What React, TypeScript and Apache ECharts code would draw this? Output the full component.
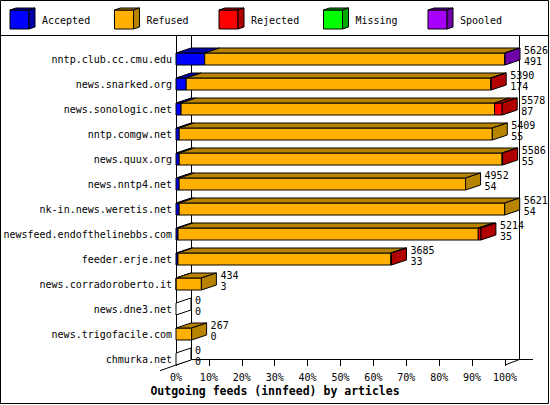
import React, { useRef, useEffect } from 'react';
import * as echarts from 'echarts';

// feeds, top to bottom
const categories = [
  'nntp.club.cc.cmu.edu',
  'news.snarked.org',
  'news.sonologic.net',
  'nntp.comgw.net',
  'news.quux.org',
  'news.nntp4.net',
  'nk-in.news.weretis.net',
  'newsfeed.endofthelinebbs.com',
  'feeder.erje.net',
  'news.corradoroberto.it',
  'news.dne3.net',
  'news.trigofacile.com',
  'chmurka.net',
];
const totals = [5626, 5390, 5578, 5409, 5586, 4952, 5621, 5214, 3685, 434, 0, 267, 0];
const accepted = [491, 174, 87, 55, 55, 54, 54, 35, 33, 3, 0, 0, 0];
const refused = [5131, 5208, 5361, 5354, 5521, 4898, 5567, 5134, 3642, 431, 0, 267, 0];
const rejected = [0, 8, 130, 0, 10, 0, 0, 45, 10, 0, 0, 0, 0];
const missing = [0, 0, 0, 0, 0, 0, 0, 0, 0, 0, 0, 0, 0];
const spooled = [4, 0, 0, 0, 0, 0, 0, 0, 0, 0, 0, 0, 0];

const segmentNames = ['Accepted', 'Refused', 'Rejected', 'Missing', 'Spooled'];
const frontColors = ['#0000ff', '#ffb000', '#ff0000', '#00ff00', '#a800ff'];
const shadeColors = ['#0000a8', '#b88400', '#b00000', '#00a800', '#7000a8'];

const FONT = '"DejaVu Sans Mono", monospace';
const DX = 15; // depth offset, horizontal
const DY = 5; // depth offset, vertical
const HALF = 6; // half bar height

export default function App() {
  const chartRef = useRef<HTMLDivElement>(null);

  useEffect(() => {
    if (!chartRef.current) return;
    const chart = echarts.init(chartRef.current, null, { renderer: 'svg' });

    const maxTotal = Math.max(...totals);
    const pct = (v: number) => (v / maxTotal) * 100;
    const data = categories.map((_, i) => [
      i,
      pct(accepted[i]),
      pct(refused[i]),
      pct(rejected[i]),
      pct(missing[i]),
      pct(spooled[i]),
      totals[i],
      accepted[i],
    ]);

    // legend cubes
    const legend: any[] = [];
    segmentNames.forEach((name, k) => {
      const lx = 10 + k * 104.5;
      legend.push(
        { type: 'rect', z: 1, shape: { x: lx, y: 10, width: 19, height: 19 }, style: { fill: frontColors[k], stroke: '#000', lineWidth: 1 } },
        { type: 'polygon', z: 1, shape: { points: [[lx, 10], [lx + 6, 8], [lx + 25, 8], [lx + 19, 10]] }, style: { fill: shadeColors[k], stroke: '#000', lineWidth: 1 } },
        { type: 'polygon', z: 1, shape: { points: [[lx + 19, 10], [lx + 25, 8], [lx + 25, 27], [lx + 19, 29]] }, style: { fill: shadeColors[k], stroke: '#000', lineWidth: 1 } },
        { type: 'text', z: 1, style: { text: name, x: lx + 32, y: 20, fill: '#000', fontFamily: FONT, fontSize: 10, verticalAlign: 'middle' } }
      );
    });

    const line = (x1: number, y1: number, x2: number, y2: number) => ({
      type: 'line', z: 0, shape: { x1, y1, x2, y2 }, style: { stroke: '#000', lineWidth: 1 },
    });

    const option: any = {
      animation: false,
      title: {
        text: 'Outgoing feeds (innfeed) by articles',
        left: 'center',
        top: 385,
        padding: 0,
        textStyle: { color: '#000', fontFamily: FONT, fontSize: 11.5, fontWeight: 'bold' },
      },
      grid: { left: 176, right: 45, top: 46.5, height: 325 },
      xAxis: {
        type: 'value',
        min: 0,
        max: 100,
        interval: 10,
        offset: -11.5,
        axisLine: { show: false },
        axisTick: { show: true, length: 6, lineStyle: { color: '#000' } },
        axisLabel: { formatter: '{value}%', color: '#000', fontFamily: FONT, fontSize: 10, margin: 12 },
        splitLine: { show: false },
      },
      yAxis: {
        type: 'category',
        data: categories,
        inverse: true,
        axisLine: { show: false },
        axisTick: { show: false },
        axisLabel: { color: '#000', fontFamily: FONT, fontSize: 10, margin: 4 },
      },
      graphic: [
        { type: 'rect', z: 0, shape: { x: 0.5, y: 0.5, width: 548, height: 403 }, style: { fill: 'none', stroke: '#000', lineWidth: 1 } },
        line(0, 35.5, 549, 35.5),
        line(176.5, 36, 176.5, 365),
        line(191.5, 36, 191.5, 359.5),
        line(519.5, 36, 519.5, 359.5),
        line(191.5, 359.5, 533, 359.5),
        line(160, 370.7, 191.5, 359.5),
        line(505, 365, 519.5, 359.5),
        ...legend,
      ],
      series: [
        {
          type: 'custom',
          z: 5,
          data,
          encode: { x: 2, y: 0 },
          renderItem: (_params: any, api: any) => {
            const i = api.value(0);
            const [x0, cy] = api.coord([0, i]);
            const top = cy - HALF;
            const bot = cy + HALF;
            const children: any[] = [];
            let start = 0;
            let lastIdx = -1;
            let xEnd = x0;
            for (let k = 0; k < 5; k++) {
              const v = api.value(k + 1);
              if (v <= 0) continue;
              const xa = api.coord([start, i])[0];
              const xb = api.coord([start + v, i])[0];
              children.push({
                type: 'rect',
                shape: { x: xa, y: top, width: xb - xa, height: bot - top },
                style: { fill: frontColors[k], stroke: '#000', lineWidth: 1 },
              });
              children.push({
                type: 'polygon',
                shape: { points: [[xa, top], [xa + DX, top - DY], [xb + DX, top - DY], [xb, top]] },
                style: { fill: shadeColors[k], stroke: '#000', lineWidth: 1 },
              });
              start += v;
              lastIdx = k;
              xEnd = xb;
            }
            // right-hand face takes the shade of the last segment
            children.push({
              type: 'polygon',
              shape: { points: [[xEnd, top], [xEnd + DX, top - DY], [xEnd + DX, bot - DY], [xEnd, bot]] },
              style: { fill: lastIdx >= 0 ? shadeColors[lastIdx] : '#fff', stroke: '#000', lineWidth: 1 },
            });
            children.push({
              type: 'text',
              style: { text: String(api.value(6)), x: xEnd + 19, y: cy - 9, fill: '#000', fontFamily: FONT, fontSize: 10, verticalAlign: 'middle' },
            });
            children.push({
              type: 'text',
              style: { text: String(api.value(7)), x: xEnd + 19, y: cy + 2, fill: '#000', fontFamily: FONT, fontSize: 10, verticalAlign: 'middle' },
            });
            return { type: 'group', children };
          },
        },
      ],
    };

    chart.setOption(option);
    return () => {
      chart.dispose();
    };
  }, []);

  return (
    <div
      ref={chartRef}
      style={{ position: 'fixed', left: 0, top: 0, width: '550px', height: '405px', background: '#fff' }}
    />
  );
}
